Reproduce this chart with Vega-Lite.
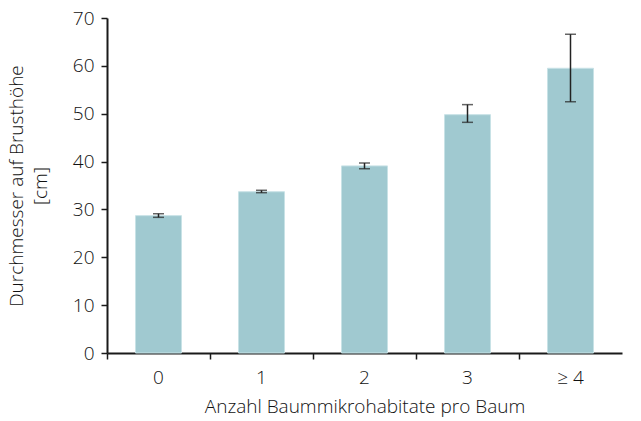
{
  "$schema": "https://vega.github.io/schema/vega-lite/v6.json",
  "width": 515,
  "height": 335,
  "autosize": {"type": "none"},
  "padding": {"left": 107, "top": 18, "right": 19, "bottom": 68},
  "background": "white",
  "config": {
    "view": {"stroke": null},
    "font": "Open Sans",
    "axis": {"labelFont": "Open Sans", "titleFont": "Open Sans", "labelColor": "#111", "titleColor": "#111", "titleFontWeight": 300, "labelFontWeight": 300, "domainColor": "#1a1a1a", "tickColor": "#1a1a1a", "domainWidth": 2, "tickWidth": 1.5, "grid": false}
  },
  "data": {"values": [
    {"k": "0", "mean": 28.7, "lo": 28.35, "hi": 29.1},
    {"k": "1", "mean": 33.7, "lo": 33.5, "hi": 34.0},
    {"k": "2", "mean": 39.1, "lo": 38.5, "hi": 39.7},
    {"k": "3", "mean": 49.8, "lo": 48.2, "hi": 51.9},
    {"k": "≥ 4", "mean": 59.5, "lo": 52.5, "hi": 66.6}
  ]},
  "encoding": {
    "x": {"field": "k", "type": "nominal", "sort": null,
      "scale": {"paddingInner": 0, "paddingOuter": 0},
      "axis": {"title": "Anzahl Baummikrohabitate pro Baum", "labelAngle": 0, "labelFontSize": 19, "titleFontSize": 19, "labelPadding": 9, "titlePadding": 10, "bandPosition": 0, "tickSize": 6}}
  },
  "layer": [
    {"mark": {"type": "bar", "size": 46, "color": "#a0c9d0", "stroke": "#c8e2e6", "strokeWidth": 1},
     "encoding": {"y": {"field": "mean", "type": "quantitative",
       "scale": {"domain": [0, 70]},
       "axis": {"title": ["Durchmesser auf Brusthöhe", "[cm]"], "values": [0,10,20,30,40,50,60,70], "labelFontSize": 19, "titleFontSize": 19, "tickSize": 6, "labelPadding": 7, "titlePadding": 22, "titleLineHeight": 24}}}},
    {"mark": {"type": "rule", "color": "#222", "strokeWidth": 1.5},
     "encoding": {"y": {"field": "lo", "type": "quantitative"}, "y2": {"field": "hi"}}},
    {"mark": {"type": "tick", "color": "#222", "size": 11, "thickness": 1.5},
     "encoding": {"y": {"field": "lo", "type": "quantitative"}}},
    {"mark": {"type": "tick", "color": "#222", "size": 11, "thickness": 1.5},
     "encoding": {"y": {"field": "hi", "type": "quantitative"}}}
  ]
}
